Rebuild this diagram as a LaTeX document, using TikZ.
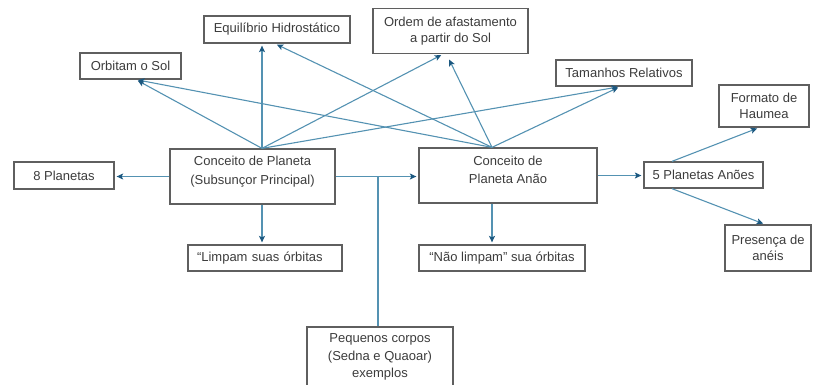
\documentclass[tikz,border=0pt]{standalone}
\usepackage{fontspec}
\setmainfont{Liberation Sans}
\usetikzlibrary{arrows.meta}
\definecolor{linkblue}{RGB}{84,146,178}
\definecolor{tipblue}{RGB}{28,88,128}
\definecolor{boxgray}{RGB}{95,95,95}
\definecolor{textgray}{RGB}{60,60,60}
\begin{document}
\begin{tikzpicture}[x=1pt,y=1pt]
    \tikzstyle{every node}+=[font=\fontsize{13}{17}\selectfont, text=textgray]
    \tikzstyle{box}=[draw=boxgray, line width=1.3pt, inner xsep=4pt, inner ysep=2pt, align=center]
    \tikzstyle{link}=[draw=linkblue, line width=1.1pt]
    \tikzstyle{arr}=[link, -{Stealth[length=6.5pt,width=6pt,inset=1.5pt,color=tipblue]}, shorten >=2pt]
    \useasboundingbox (0,0) rectangle (813,-384);
    % upper boxes
    \node [box, minimum width=101, minimum height=26] (orbitam) at (130.5,-66) {Orbitam o Sol};
    \node [box, minimum width=146, minimum height=27] (equil) at (277,-29.5) {Equilíbrio Hidrostático};
    \node [box, minimum width=155, minimum height=45, font=\fontsize{13}{16}\selectfont] (ordem) at (450.5,-31) {Ordem de afastamento\\a partir do Sol};
    \node [box, minimum width=136, minimum height=26] (taman) at (624,-73) {Tamanhos Relativos};
    \node [box, minimum width=90, minimum height=42, font=\fontsize{13}{16}\selectfont] (formato) at (764,-106) {Formato de\\Haumea};
    % middle row
    \node [box, minimum width=100, minimum height=27] (oito) at (64,-175.5) {8 Planetas};
    \node [box, minimum width=165, minimum height=55, font=\fontsize{13}{19}\selectfont] (cp) at (252.5,-176.5) {Conceito de Planeta\\(Subsunçor Principal)\\[-6pt]\mbox{}};
    \node [box, minimum width=178, minimum height=55, font=\fontsize{13}{18}\selectfont] (cpa) at (508,-175.5) {Conceito de\\Planeta Anão\\[-6pt]\mbox{}};
    \node [box, minimum width=119, minimum height=26] (cinco) at (703.5,-175) {5 Planetas Anões};
    % lower boxes
    \node [box, minimum width=86, minimum height=46, font=\fontsize{13}{16}\selectfont] (presenca) at (768,-248) {Presença de\\anéis};
    \node [box, minimum width=154, minimum height=26, inner xsep=9pt, text width=136pt, align=left] (limpam) at (265,-258) {“Limpam suas órbitas};
    \node [box, minimum width=166, minimum height=26] (naolimpam) at (502,-258) {“Não limpam” sua órbitas};
    \node [box, minimum width=146, minimum height=60, font=\fontsize{13}{17.5}\selectfont] (pequenos) at (380,-357) {Pequenos corpos\\(Sedna e Quaoar)\\exemplos};
    % connectors
    \coordinate (cptop) at ([xshift=9.5]cp.north);
    \coordinate (cpbot) at ([xshift=9.5]cp.south);
    \coordinate (cpatop) at ([xshift=-16]cpa.north);
    \coordinate (cpabot) at ([xshift=-16]cpa.south);
    \coordinate (junc) at (378,-176);
    \draw [arr] (cptop) -- ([xshift=5.5]orbitam.south);
    \draw [arr] (cptop) -- (cptop |- equil.south);
    \draw [arr] (cptop) -- ([xshift=-7.5]ordem.south);
    \draw [arr] (cptop) -- ([xshift=-4]taman.south);
    \draw [arr] (cpatop) -- ([xshift=5.5]orbitam.south);
    \draw [arr] (cpatop) -- ([xshift=-2]equil.south);
    \draw [arr, shorten >=6pt] (cpatop) -- ([xshift=-4]ordem.south);
    \draw [arr] (cpatop) -- ([xshift=-4]taman.south);
    \draw [arr] (cp.west) -- (cp.west -| oito.east);
    \draw [arr] (cp.east) -- (cp.east -| cpa.west);
    \draw [link] (junc) -- (junc |- pequenos.north);
    \draw [arr] (cpbot) -- (cpbot |- limpam.north);
    \draw [arr] (cpa.east) -- (cpa.east -| cinco.west);
    \draw [arr] (cpabot) -- (cpabot |- naolimpam.north);
    \draw [arr] ([xshift=-31.5]cinco.north) -- ([xshift=-5]formato.south);
    \draw [arr] ([xshift=-31.5]cinco.south) -- ([xshift=-3]presenca.north);
\end{tikzpicture}
\end{document}
